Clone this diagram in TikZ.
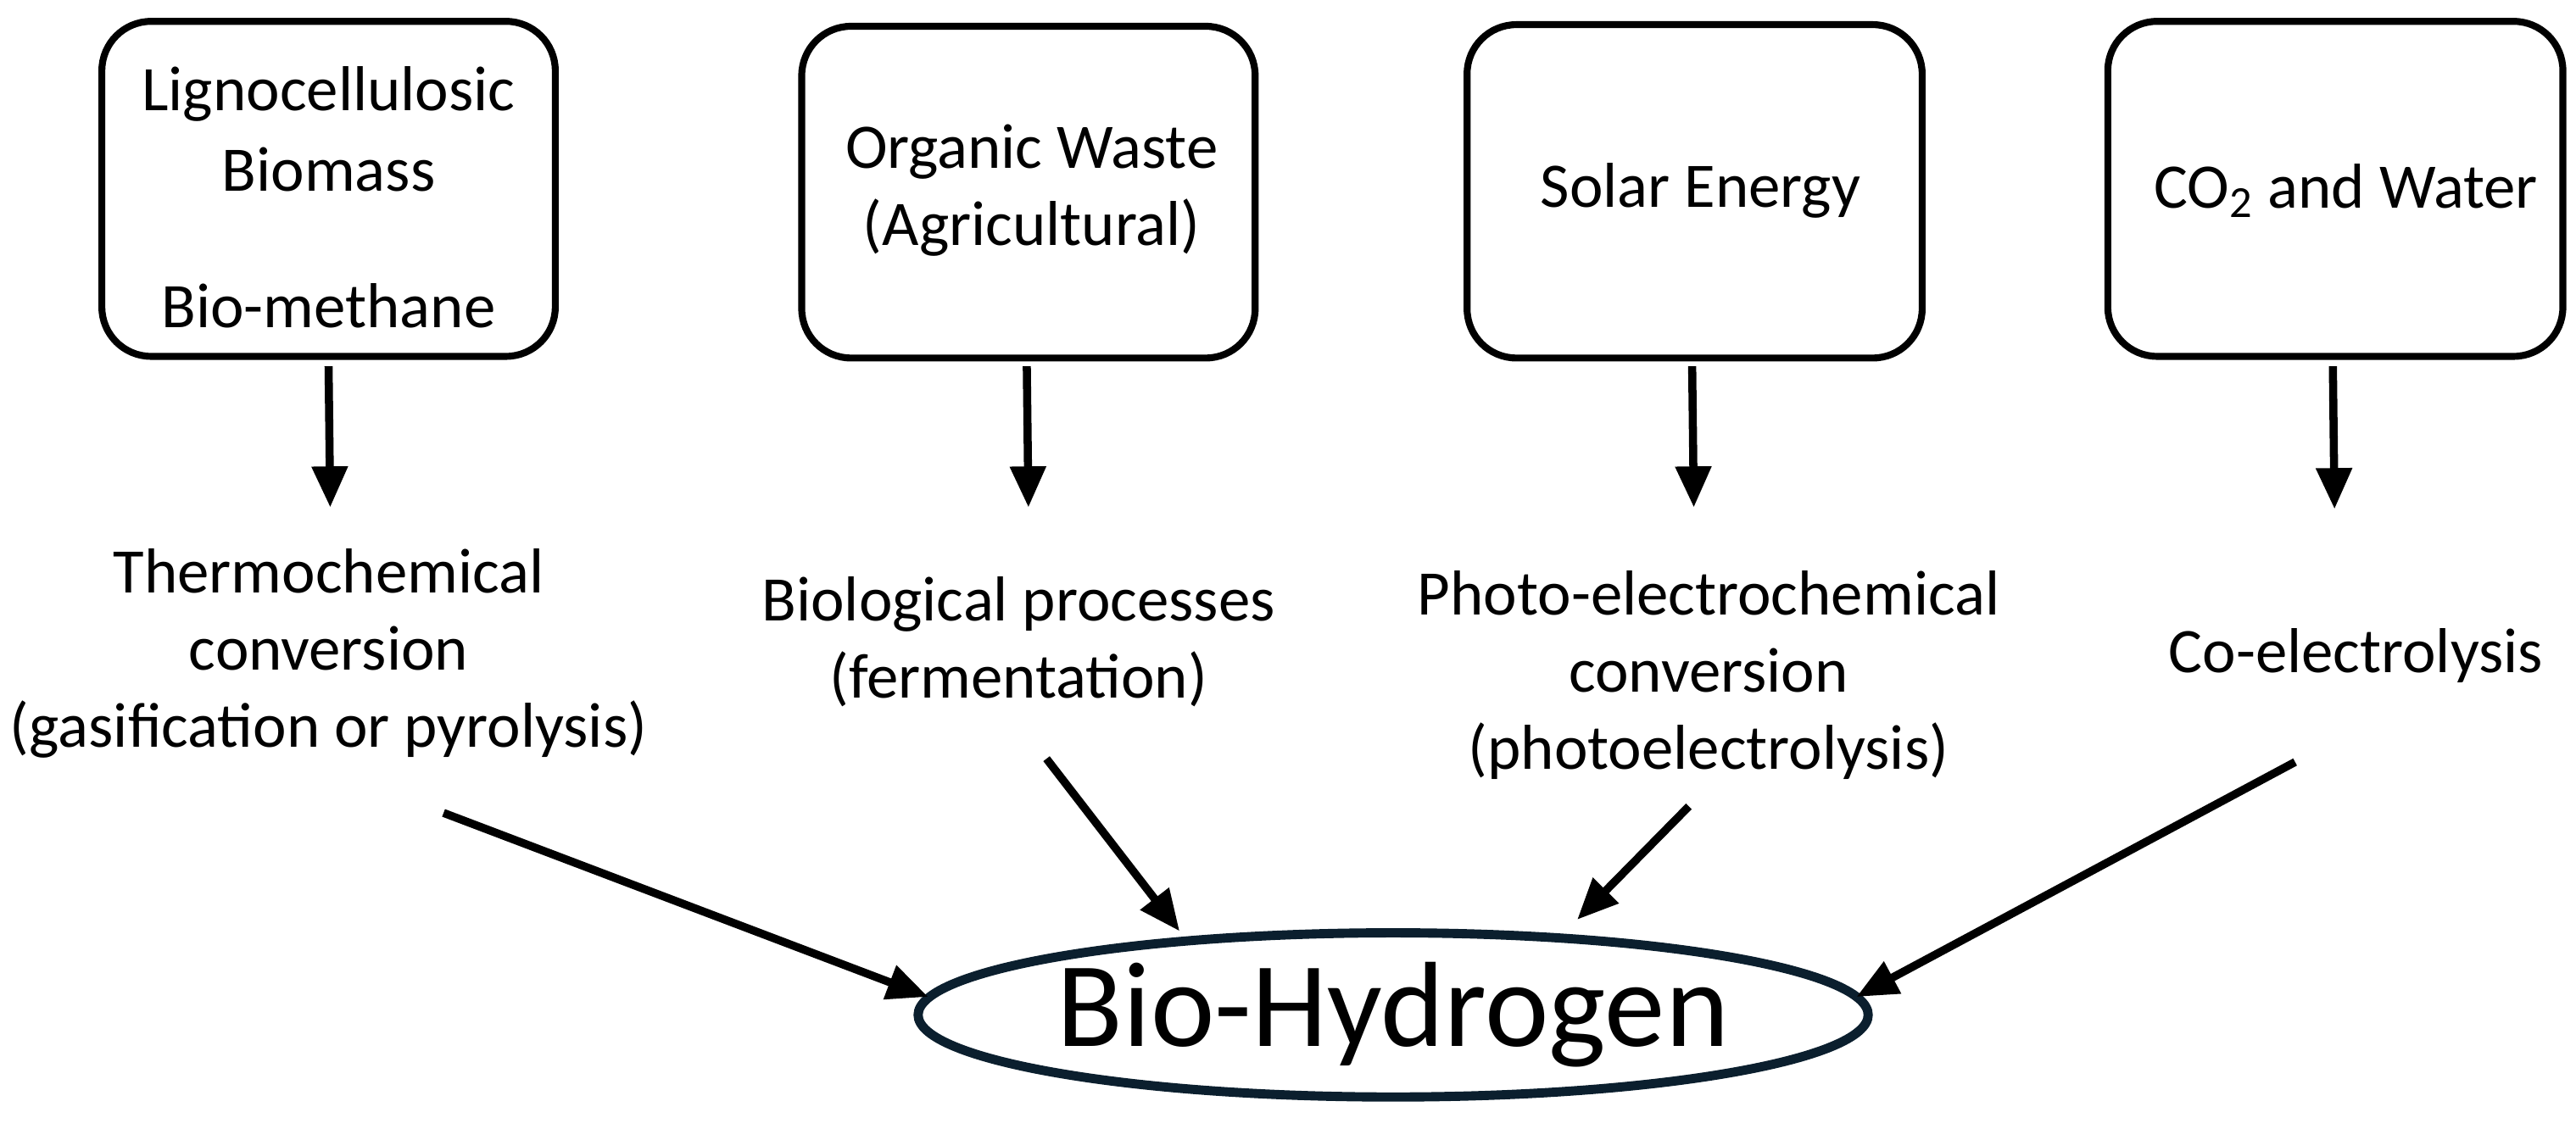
\documentclass[tikz,border=0pt]{standalone}
\usepackage{fontspec}
\setmainfont{Carlito}
\usetikzlibrary{arrows.meta,shapes.geometric}
\definecolor{navy}{HTML}{0B1F2E}
\begin{document}
\begin{tikzpicture}[x=0.02cm,y=-0.02cm,
  srcbox/.style={draw,line width=2.4pt,rounded corners=0.6cm},
  lbl/.style={align=center,font=\fontsize{22}{26.7}\selectfont,inner sep=0pt},
  arr/.style={line width=2.8pt,-{Triangle[length=0.5cm,width=0.42cm]}}]
\useasboundingbox (0,0) rectangle (1568,687);
\draw[srcbox] (62,13) rectangle (338,217);
\draw[srcbox] (488,16) rectangle (764,218);
\draw[srcbox] (893,15) rectangle (1170,218);
\draw[srcbox] (1283,13) rectangle (1560,217);
\node[lbl] (t1a) at (200,57) {Lignocellulosic};
\node[lbl] (t1b) at (200,103) {Biomass};
\node[lbl] (t1c) at (200,186) {Bio-methane};
\node[lbl] (t2) at (628,116) {Organic Waste\\(Agricultural)};
\node[lbl] (t3) at (1035,116) {Solar Energy};
\node[lbl] (t4) at (1428,116) {CO\textsubscript{2} and Water};
\node[lbl] (p1) at (200,398) {Thermochemical\\conversion\\(gasification or pyrolysis)};
\node[lbl] (p2) at (620,391) {Biological processes\\(fermentation)};
\node[lbl] (p3) at (1040,411) {Photo-electrochemical\\conversion\\(photoelectrolysis)};
\node[lbl] (p4) at (1434,399) {Co-electrolysis};
\node[ellipse,draw=navy,line width=3.2pt,minimum width=11.3cm,minimum height=2.0cm,inner sep=0pt,font=\fontsize{42}{48}\selectfont] (h) at (848,618) {Bio-Hydrogen};
\coordinate (a1s) at (200,223); \coordinate (a1e) at (201,309);
\coordinate (a2s) at (625,223); \coordinate (a2e) at (626,309);
\coordinate (a3s) at (1030,223); \coordinate (a3e) at (1031,309);
\coordinate (a4s) at (1420,223); \coordinate (a4e) at (1421,310);
\draw[arr] (a1s) -- (a1e);
\draw[arr] (a2s) -- (a2e);
\draw[arr] (a3s) -- (a3e);
\draw[arr] (a4s) -- (a4e);
\coordinate (d1s) at (270,495); \coordinate (d1e) at (565,607);
\coordinate (d2s) at (637,462); \coordinate (d2e) at (718,567);
\coordinate (d3s) at (1028,491); \coordinate (d3e) at (960,560);
\coordinate (d4s) at (1397,464); \coordinate (d4e) at (1130,607);
\draw[arr] (d1s) -- (d1e);
\draw[arr] (d2s) -- (d2e);
\draw[arr] (d3s) -- (d3e);
\draw[arr] (d4s) -- (d4e);
\end{tikzpicture}
\end{document}
